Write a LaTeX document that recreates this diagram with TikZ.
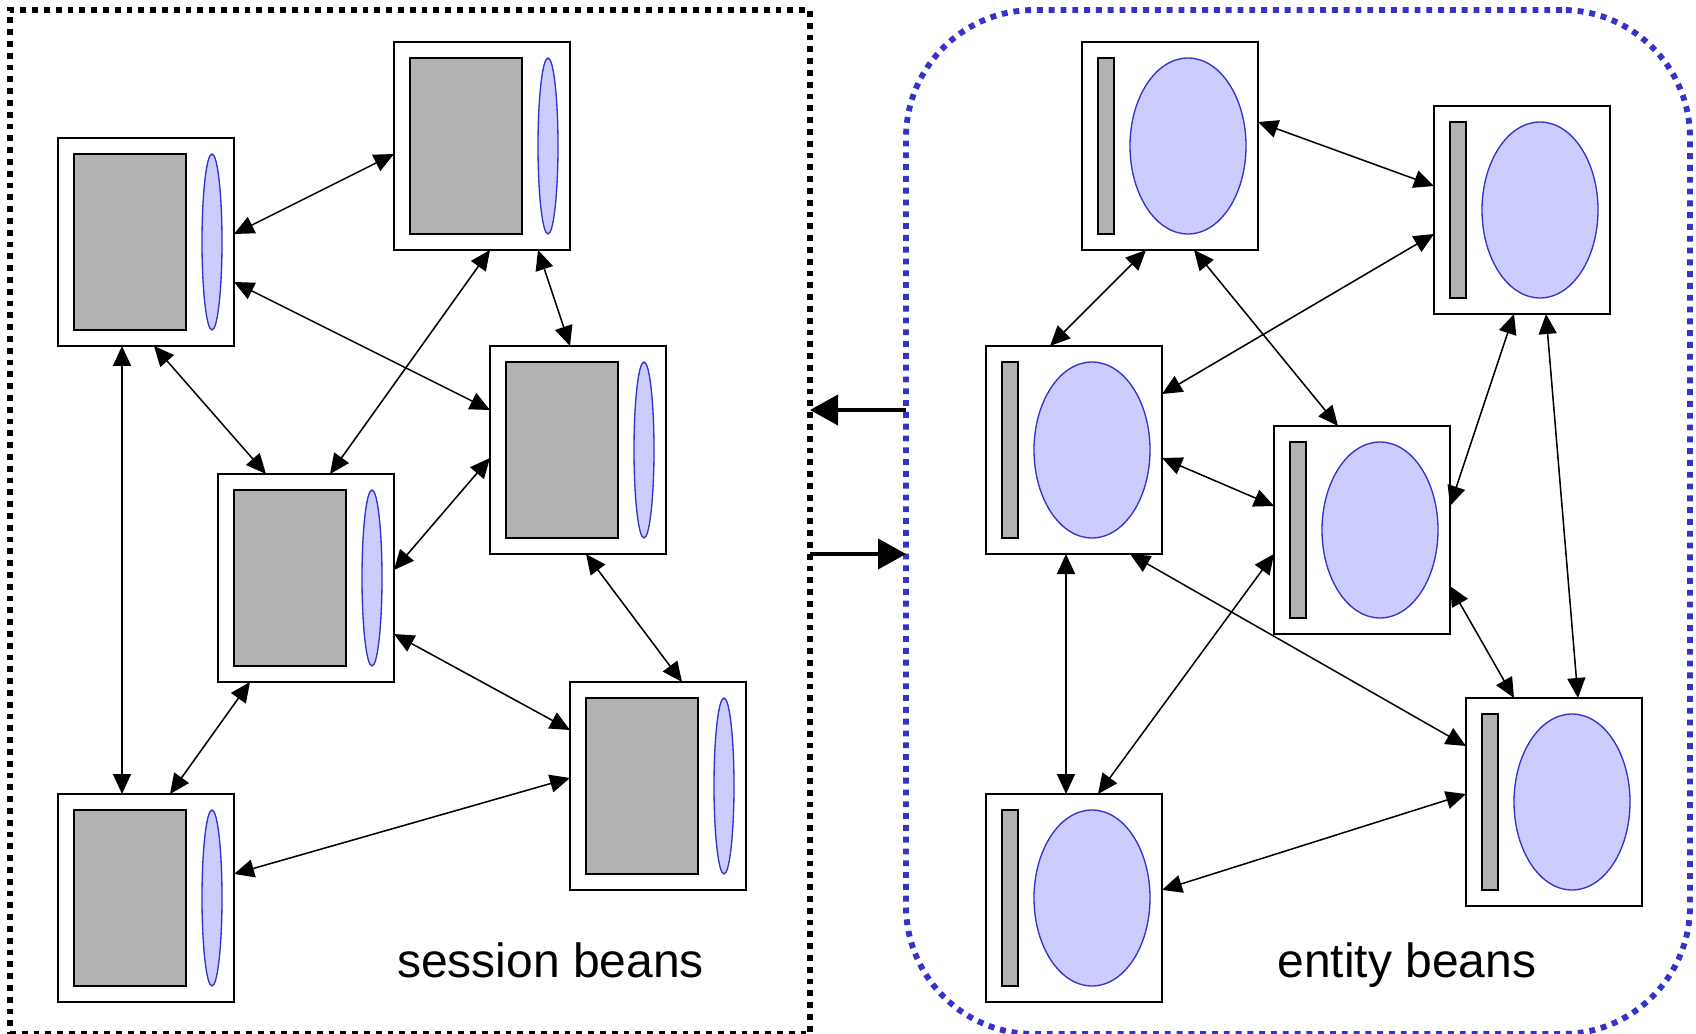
\documentclass[tikz,border=0pt]{standalone}
\usepackage{fontspec}
\setmainfont{Liberation Sans}
\usetikzlibrary{arrows.meta,calc}

\definecolor{blockgray}{HTML}{B3B3B3}
\definecolor{ovalfill}{HTML}{CCCCFF}
\definecolor{ovalline}{HTML}{3333CC}

% one grid unit = 12pt; y grows downwards
\tikzset{
  beanbox/.style={draw=black, line width=1pt, fill=white, inner sep=0pt, outer sep=0pt,
    minimum width=132pt, minimum height=156pt, anchor=north west},
  grayblock/.style={draw=black, line width=1.2pt, fill=blockgray},
  beanoval/.style={draw=ovalline, line width=1pt, fill=ovalfill},
  link/.style={line width=1.15pt, {Triangle[length=15pt,width=13.5pt]}-{Triangle[length=15pt,width=13.5pt]}},
  handoff/.style={line width=3pt, -{Triangle[length=21pt,width=22.5pt]}},
  framebox/.style={line width=4.4pt, dash pattern=on 4.4pt off 4.45pt, inner sep=0pt, outer sep=0pt,
    minimum height=768pt, anchor=north west},
  caption/.style={anchor=base, inner sep=0pt, font=\fontsize{36pt}{40pt}\selectfont}
}

% session bean: box with a large gray block and a slim oval
\newcommand\sessionbean[3]{%
  \node[beanbox] (#1) at (#2,#3) {};
  \draw[grayblock] ($(#1.north west)+(1,1)$) rectangle ($(#1.north west)+(8,12)$);
  \draw[beanoval] ($(#1.north west)+(9.625,6.5)$) ellipse [x radius=7.5pt, y radius=66pt];
}
% entity bean: box with a slim gray bar and a large oval
\newcommand\entitybean[3]{%
  \node[beanbox] (#1) at (#2,#3) {};
  \draw[grayblock] ($(#1.north west)+(1,1)$) rectangle ($(#1.north west)+(2,12)$);
  \draw[beanoval] ($(#1.north west)+(6.625,6.5)$) ellipse [x radius=43.5pt, y radius=66pt];
}

\begin{document}
\begin{tikzpicture}[x=12pt,y=-12pt]
\useasboundingbox (-0.625,-0.625) rectangle (105.375,64);

% containers
\node[framebox, draw=black, minimum width=600pt] (sessionframe) at (0,0) {};
\node[framebox, draw=ovalline, minimum width=588pt, rounded corners=96pt] (entityframe) at (56,0) {};

% session beans
\sessionbean{S1}{3}{8}
\sessionbean{S2}{24}{2}
\sessionbean{S3}{30}{21}
\sessionbean{S4}{13}{29}
\sessionbean{S5}{3}{49}
\sessionbean{S6}{35}{42}

% entity beans
\entitybean{E1}{67}{2}
\entitybean{E2}{89}{6}
\entitybean{E3}{61}{21}
\entitybean{E4}{79}{26}
\entitybean{E5}{91}{43}
\entitybean{E6}{61}{49}

% links between session beans
\draw[link] ($(S1.north east)+(0,6)$) -- ($(S2.north west)+(0,7)$);
\draw[link] ($(S1.north east)+(0,9)$) -- ($(S3.north west)+(0,4)$);
\draw[link] ($(S2.south west)+(6,0)$) -- ($(S4.north west)+(7,0)$);
\draw[link] ($(S2.south west)+(9,0)$) -- ($(S3.north west)+(5,0)$);
\draw[link] ($(S1.south west)+(6,0)$) -- ($(S4.north west)+(3,0)$);
\draw[link] ($(S1.south west)+(4,0)$) -- ($(S5.north west)+(4,0)$);
\draw[link] ($(S4.north east)+(0,6)$) -- ($(S3.north west)+(0,7)$);
\draw[link] ($(S4.south west)+(2,0)$) -- ($(S5.north west)+(7,0)$);
\draw[link] ($(S4.north east)+(0,10)$) -- ($(S6.north west)+(0,3)$);
\draw[link] ($(S3.south west)+(6,0)$) -- ($(S6.north west)+(7,0)$);
\draw[link] ($(S5.north east)+(0,5)$) -- ($(S6.north west)+(0,6)$);

% links between entity beans
\draw[link] ($(E1.north east)+(0,5)$) -- ($(E2.north west)+(0,5)$);
\draw[link] ($(E1.south west)+(4,0)$) -- ($(E3.north west)+(4,0)$);
\draw[link] ($(E1.south west)+(7,0)$) -- ($(E4.north west)+(4,0)$);
\draw[link] ($(E2.north west)+(0,8)$) -- ($(E3.north east)+(0,3)$);
\draw[link] ($(E3.north east)+(0,7)$) -- ($(E4.north west)+(0,5)$);
\draw[link] ($(E2.south west)+(5,0)$) -- ($(E4.north east)+(0,5)$);
\draw[link] ($(E2.south west)+(7,0)$) -- ($(E5.north west)+(7,0)$);
\draw[link] ($(E3.south west)+(5,0)$) -- ($(E6.north west)+(5,0)$);
\draw[link] ($(E4.north west)+(0,8)$) -- ($(E6.north west)+(7,0)$);
\draw[link] ($(E3.south west)+(9,0)$) -- ($(E5.north west)+(0,3)$);
\draw[link] ($(E4.north east)+(0,10)$) -- ($(E5.north west)+(3,0)$);
\draw[link] ($(E6.north east)+(0,6)$) -- ($(E5.north west)+(0,6)$);

% calls between the two containers
\draw[handoff] ($(entityframe.west)+(0,-7)$) -- ($(sessionframe.east)+(0,-7)$);
\draw[handoff] ($(sessionframe.east)+(0,2)$) -- ($(entityframe.west)+(0,2)$);

% captions
\node[caption] (sessionlabel) at (33.78,60.44) {session beans};
\node[caption] (entitylabel) at (87.3,60.44) {entity beans};
\end{tikzpicture}
\end{document}
